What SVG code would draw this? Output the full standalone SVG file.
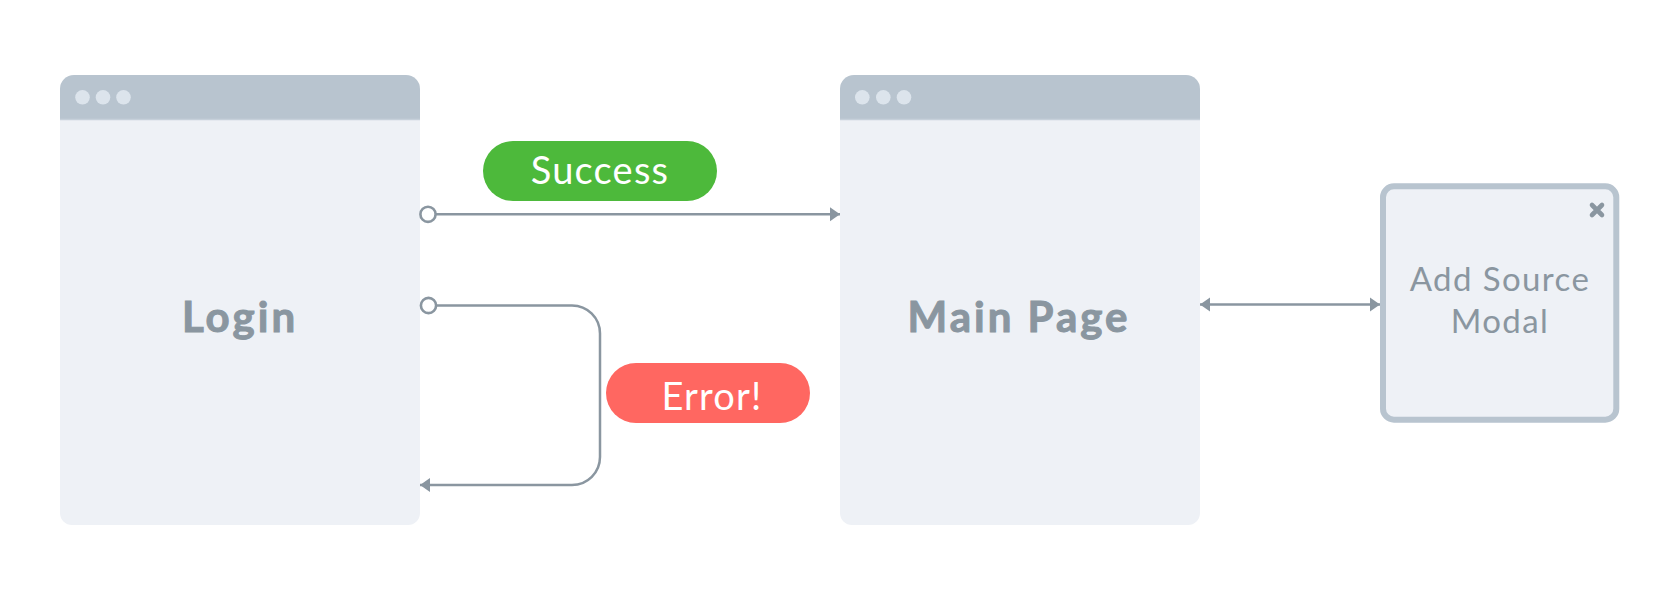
<svg xmlns="http://www.w3.org/2000/svg" width="1680" height="600" viewBox="0 0 1680 600">
  <style>
    .body { fill: #EEF1F6; }
    .header { fill: #B8C4CF; }
    .hline { stroke: #C6D0DA; stroke-width: 1.5; }
    .dot { fill: #DCE4EC; }
    .title { font-family: Lato, "Liberation Sans", sans-serif; font-weight: 700; font-size: 42px; fill: #8A96A0; stroke: #8A96A0; stroke-width: 1; letter-spacing: 3px; text-anchor: middle; }
    .modal-text { font-family: Lato, "Liberation Sans", sans-serif; font-weight: 400; font-size: 33px; fill: #8A96A0; letter-spacing: 1.4px; text-anchor: middle; }
    .pill-text { font-family: Lato, "Liberation Sans", sans-serif; font-weight: 400; font-size: 38px; fill: #FFFFFF; letter-spacing: 1.2px; text-anchor: middle; }
    .conn { fill: none; stroke: #8A96A0; stroke-width: 2.5; }
    .port { fill: #FFFFFF; stroke: #8A96A0; stroke-width: 2.6; }
  </style>
  <defs>
    <marker id="arrow" markerUnits="userSpaceOnUse" markerWidth="10" markerHeight="16" refX="10" refY="8" orient="auto-start-reverse" viewBox="0 0 10 16">
      <path d="M0,1 L10,8 L0,15 Z" fill="#8A96A0"/>
    </marker>
  </defs>
  <rect width="1680" height="600" fill="#FFFFFF"/>

  <g id="login">
    <path class="body" d="M60,119 H420 V513 A12,12 0 0 1 408,525 H72 A12,12 0 0 1 60,513 Z"/>
    <path class="header" d="M60,119 V89 A14,14 0 0 1 74,75 H406 A14,14 0 0 1 420,89 V119 Z"/>
    <line class="hline" x1="60" y1="119.5" x2="420" y2="119.5"/>
    <circle class="dot" cx="82.5" cy="97.3" r="7.3"/>
    <circle class="dot" cx="103" cy="97.3" r="7.3"/>
    <circle class="dot" cx="123.5" cy="97.3" r="7.3"/>
    <text class="title" x="240" y="332">Login</text>
  </g>

  <g id="main-page">
    <path class="body" d="M840,119 H1200 V513 A12,12 0 0 1 1188,525 H852 A12,12 0 0 1 840,513 Z"/>
    <path class="header" d="M840,119 V89 A14,14 0 0 1 854,75 H1186 A14,14 0 0 1 1200,89 V119 Z"/>
    <line class="hline" x1="840" y1="119.5" x2="1200" y2="119.5"/>
    <circle class="dot" cx="862.3" cy="97.3" r="7.3"/>
    <circle class="dot" cx="883.3" cy="97.3" r="7.3"/>
    <circle class="dot" cx="904" cy="97.3" r="7.3"/>
    <text class="title" x="1019" y="332">Main Page</text>
  </g>

  <g id="add-source-modal">
    <rect x="1383" y="186.3" width="233.3" height="233.4" rx="11" fill="#EEF1F6" stroke="#B8C4CF" stroke-width="6"/>
    <path d="M1592,205 L1602,215 M1602,205 L1592,215" stroke="#8A96A0" stroke-width="4.6" stroke-linecap="round"/>
    <text class="modal-text" x="1500" y="291">Add Source</text>
    <text class="modal-text" x="1500" y="333">Modal</text>
  </g>

  <g id="connectors">
    <line class="conn" x1="436" y1="214.3" x2="840" y2="214.3" marker-end="url(#arrow)"/>
    <circle class="port" cx="428" cy="214.3" r="7.6"/>
    <path class="conn" d="M436,305.5 H572 A28,28 0 0 1 600,333.5 V457 A28,28 0 0 1 572,485 H420" marker-end="url(#arrow)"/>
    <circle class="port" cx="428.5" cy="305.5" r="7.6"/>
    <line class="conn" x1="1200" y1="304.5" x2="1380" y2="304.5" marker-start="url(#arrow)" marker-end="url(#arrow)"/>
  </g>

  <g id="label-success">
    <rect x="483" y="141" width="234" height="60" rx="30" fill="#4DB93B"/>
    <text class="pill-text" x="600" y="184">Success</text>
  </g>

  <g id="label-error">
    <rect x="606" y="363" width="204" height="60" rx="30" fill="#FF6761"/>
    <text class="pill-text" x="712" y="410">Error!</text>
  </g>
</svg>
